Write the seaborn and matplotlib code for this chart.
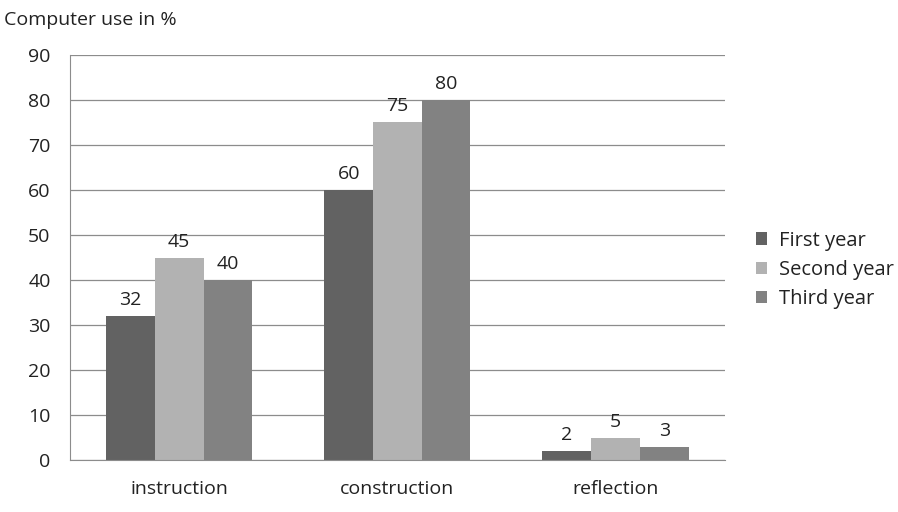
import pandas as pd
import matplotlib.pyplot as plt
import seaborn as sns

categories = ['instruction', 'construction', 'reflection']
series = ['First year', 'Second year', 'Third year']
first_year = [32, 60, 2]
second_year = [45, 75, 5]
third_year = [40, 80, 3]
colors = ['#626262', '#b2b2b2', '#828282']

rows = []
for name, vals in zip(series, [first_year, second_year, third_year]):
    for cat, v in zip(categories, vals):
        rows.append({'Category': cat, 'Year': name, 'Value': v})
df = pd.DataFrame(rows)

sns.set_style('white')
plt.rcParams['font.family'] = ['Open Sans', 'DejaVu Sans']

fig = plt.figure(figsize=(8.98, 5.12), dpi=100)
ax = fig.add_axes([0.078, 0.101, 0.729, 0.792])

sns.barplot(data=df, x='Category', y='Value', hue='Year', palette=colors,
            width=0.67, saturation=1, linewidth=0, ax=ax, legend=True)

for c in ax.containers:
    ax.bar_label(c, padding=5, fontsize=14, color='#222222')

ax.set_ylim(0, 90)
ax.set_yticks(range(0, 91, 10))
ax.yaxis.grid(True, color='#8c8c8c', linewidth=0.9)
ax.set_axisbelow(True)
ax.set_xlabel('')
ax.set_ylabel('')
for s in ['top', 'right']:
    ax.spines[s].set_visible(False)
ax.spines['left'].set_color('#8c8c8c')
ax.spines['bottom'].set_color('#8c8c8c')
ax.tick_params(axis='y', labelsize=14, colors='#222222', pad=14, length=0)
ax.tick_params(axis='x', labelsize=14, colors='#222222', pad=14, length=0)

ax.legend(loc='center left', bbox_to_anchor=(1.02, 0.47), frameon=False,
          fontsize=14.5, handlelength=0.55, handleheight=0.55, handletextpad=0.6,
          labelspacing=0.45, labelcolor='#222222')

fig.text(0.005, 0.952, 'Computer use in %', fontsize=14, color='#222222')

plt.savefig('out.png', dpi=100)
